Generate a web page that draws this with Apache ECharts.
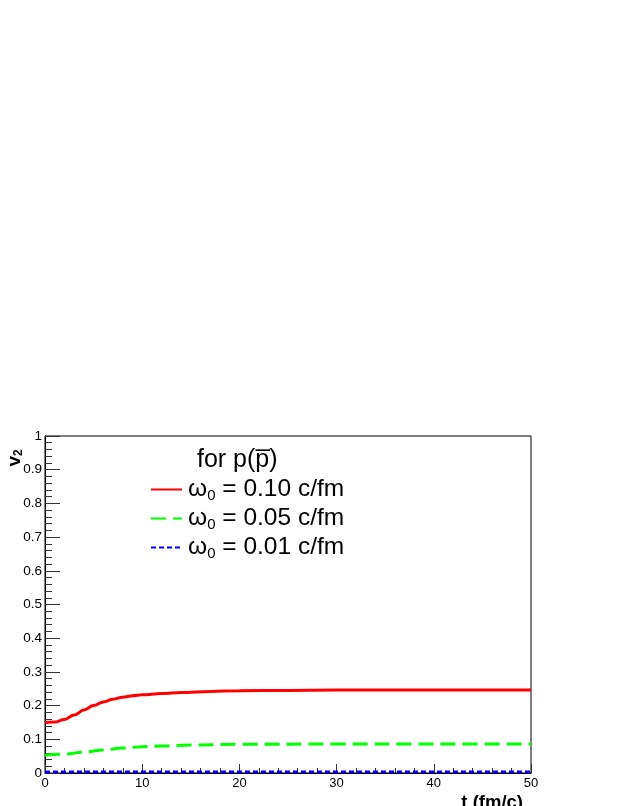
<!DOCTYPE html>
<html>
<head>
<meta charset="utf-8">
<script src="https://cdn.jsdelivr.net/npm/echarts@6/dist/echarts.min.js"></script>
<style>
  html, body { margin: 0; padding: 0; background: #fff; }
  #chart { width: 623px; height: 806px; }
</style>
</head>
<body>
<div id="chart"></div>
<script>
// curves: t (fm/c) -> v2
const tRed = [0, 1, 2, 3, 4, 5, 6, 7, 8, 9, 10, 12, 14, 17, 20, 25, 30, 40, 50]
const v2Red = [0.150, 0.151, 0.159, 0.172, 0.187, 0.200, 0.211, 0.219, 0.225, 0.229, 0.232, 0.236, 0.239, 0.242, 0.244, 0.245, 0.246, 0.246, 0.246]

const tGreen = [0, 2, 4, 6, 8, 10, 12, 15, 20, 30, 40, 50]
const v2Green = [0.053, 0.056, 0.062, 0.068, 0.074, 0.078, 0.080, 0.083, 0.085, 0.086, 0.086, 0.086]

const tBlue = [0, 10, 20, 30, 40, 50]
const v2Blue = [0.003, 0.003, 0.003, 0.003, 0.003, 0.003]

const seriesNames = ['0.10 c/fm', '0.05 c/fm', '0.01 c/fm']

const FONT = '"Liberation Sans", Arial, Helvetica, sans-serif'

const pairs = (xs, ys) => xs.map((x, i) => [x, ys[i]])

const chart = echarts.init(document.getElementById('chart'))

chart.setOption({
  animation: false,
  backgroundColor: '#fff',
  textStyle: { fontFamily: FONT },
  grid: {
    left: 45,
    right: 92,
    top: 436,
    bottom: 33,
    show: true,
    borderColor: '#000',
    borderWidth: 1,
    backgroundColor: 'transparent'
  },
  legend: {
    orient: 'vertical',
    left: 150,
    top: 477,
    padding: 0,
    itemWidth: 31,
    itemHeight: 14,
    itemGap: 3,
    data: seriesNames,
    itemStyle: { opacity: 0 },
    formatter: (name) => `{w|ω}{s|0}{t| = ${name}}`,
    textStyle: {
      color: '#000',
      fontFamily: FONT,
      fontSize: 24.5,
      padding: [0, 0, 0, 1],
      rich: {
        w: { fontSize: 24.5, lineHeight: 27, fontFamily: FONT },
        t: { fontSize: 24.5, lineHeight: 27, fontFamily: FONT },
        s: { fontSize: 15, verticalAlign: 'bottom', fontFamily: FONT }
      }
    }
  },
  xAxis: {
    type: 'value',
    min: 0,
    max: 50,
    interval: 10,
    axisLine: { show: true, onZero: false, lineStyle: { color: '#000', width: 1 } },
    axisTick: { show: true, inside: true, length: 9, lineStyle: { color: '#333' } },
    minorTick: { show: true, splitNumber: 5, length: 5, lineStyle: { color: '#333' } },
    splitLine: { show: false },
    axisLabel: { color: '#000', fontSize: 13, margin: 4, fontFamily: FONT }
  },
  yAxis: {
    type: 'value',
    min: 0,
    max: 1,
    interval: 0.1,
    axisLine: { show: true, onZero: false, lineStyle: { color: '#000', width: 1 } },
    axisTick: { show: true, inside: true, length: 15, lineStyle: { color: '#333' } },
    minorTick: { show: true, splitNumber: 5, length: 7, lineStyle: { color: '#333' } },
    splitLine: { show: false },
    axisLabel: {
      color: '#000',
      fontSize: 13.5,
      margin: 3,
      fontFamily: FONT,
      formatter: (v) => (v === 0 ? '0' : v === 1 ? '1' : v.toFixed(1))
    }
  },
  graphic: [
    {
      type: 'text',
      x: 197,
      y: 460,
      style: {
        text: 'for p(p\u0305)',
        font: '25px ' + FONT,
        fill: '#000',
        align: 'left',
        verticalAlign: 'middle'
      }
    },
    {
      type: 'text',
      x: 15,
      y: 458,
      rotation: Math.PI / 2,
      style: {
        text: '{v|v}{s|2}',
        align: 'center',
        verticalAlign: 'middle',
        rich: {
          v: { fontSize: 19, fontWeight: 'bold', lineHeight: 20, fontFamily: FONT, fill: '#000' },
          s: { fontSize: 12, fontWeight: 'bold', verticalAlign: 'bottom', fontFamily: FONT, fill: '#000' }
        }
      }
    },
    {
      type: 'text',
      x: 523,
      y: 803,
      style: {
        text: 't (fm/c)',
        font: 'bold 18.5px ' + FONT,
        fill: '#000',
        align: 'right',
        verticalAlign: 'middle'
      }
    }
  ],
  series: [
    {
      name: seriesNames[0],
      type: 'line',
      data: pairs(tRed, v2Red),
      symbol: 'none',
      smooth: 0.4,
      smoothMonotone: 'x',
      lineStyle: { color: '#ff0000', width: 3, type: 'solid' },
      itemStyle: { color: '#ff0000' }
    },
    {
      name: seriesNames[1],
      type: 'line',
      data: pairs(tGreen, v2Green),
      symbol: 'none',
      smooth: 0.4,
      smoothMonotone: 'x',
      lineStyle: { color: '#00ff00', width: 3, type: [15, 7] },
      itemStyle: { color: '#00ff00' }
    },
    {
      name: seriesNames[2],
      type: 'line',
      data: pairs(tBlue, v2Blue),
      symbol: 'none',
      lineStyle: { color: '#0000ff', width: 3, type: [5, 3] },
      itemStyle: { color: '#0000ff' }
    }
  ]
})
</script>
</body>
</html>
